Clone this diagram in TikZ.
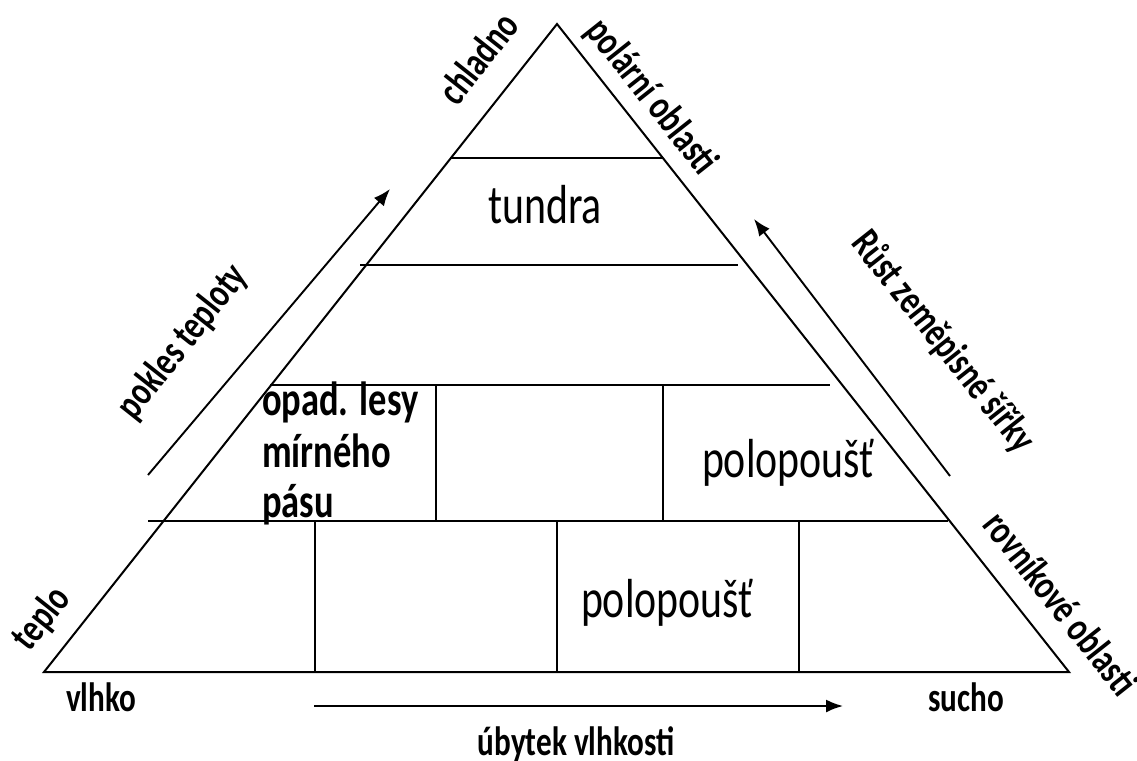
\documentclass[tikz,border=0pt]{standalone}
\usepackage{fontspec}
\setmainfont{Carlito}
\usetikzlibrary{arrows.meta}
\tikzset{
  edge/.style={line width=2pt, line join=miter},
  band/.style={line width=1.7pt},
  dirarrow/.style={line width=1.9pt, -{Latex[length=17pt,width=13pt]}},
  boldlbl/.style={font=\fontsize{41}{48}\selectfont\bfseries, inner sep=0pt, xscale=0.76},
  rotlbl/.style={font=\fontsize{41}{48}\selectfont\bfseries, inner sep=0pt, transform shape},
  biome/.style={font=\fontsize{55}{62}\selectfont, inner sep=0pt, anchor=base, xscale=0.76},
  opadline/.style={font=\fontsize{48}{52}\selectfont\bfseries, inner sep=0pt, anchor=base west, xscale=0.76},
}
\begin{document}
\begin{tikzpicture}[x=1pt,y=-1pt]
\useasboundingbox (0,0) rectangle (1137,760);
% triangle
\coordinate (A) at (557,24);
\coordinate (L) at (44,672);
\coordinate (R) at (1069,672);
\draw[edge] (A) -- (L) -- (R) -- cycle;
% horizontal band lines
\coordinate (h1a) at (451,158); \coordinate (h1b) at (663,158);
\coordinate (h2a) at (360,265); \coordinate (h2b) at (738,265);
\coordinate (h3a) at (270,385); \coordinate (h3b) at (830,385);
\coordinate (h4a) at (148,521); \coordinate (h4b) at (948,521);
\draw[band] (h1a) -- (h1b);
\draw[band] (h2a) -- (h2b);
\draw[band] (h3a) -- (h3b);
\draw[band] (h4a) -- (h4b);
% vertical cell lines
\coordinate (v1a) at (436,385); \coordinate (v1b) at (436,521);
\coordinate (v2a) at (663,385); \coordinate (v2b) at (663,521);
\coordinate (v3a) at (315,521); \coordinate (v3b) at (315,672);
\coordinate (v4a) at (557,521); \coordinate (v4b) at (557,672);
\coordinate (v5a) at (799,521); \coordinate (v5b) at (799,672);
\draw[band] (v1a) -- (v1b);
\draw[band] (v2a) -- (v2b);
\draw[band] (v3a) -- (v3b);
\draw[band] (v4a) -- (v4b);
\draw[band] (v5a) -- (v5b);
% direction arrows
\coordinate (tA) at (148,475); \coordinate (tB) at (390,189);
\coordinate (lA) at (950,476); \coordinate (lB) at (754,219);
\coordinate (mA) at (314,706); \coordinate (mB) at (843,706);
\draw[dirarrow] (tA) -- (tB);
\draw[dirarrow] (lA) -- (lB);
\draw[dirarrow] (mA) -- (mB);
% biome labels
\node[biome] (tundra) at (545,223) {tundra};
\node[biome] (pp1) at (788,477) {polopoušť};
\node[biome] (pp2) at (667,617) {polopoušť};
\node[opadline] (opad1) at (262,415) {opad. lesy};
\node[opadline] (opad2) at (262,467) {mírného};
\node[opadline] (opad3) at (262,517) {pásu};
% rotated axis labels (text narrowed along its baseline)
\begin{scope}[shift={(478,58)}]
  \node[rotlbl, rotate=51.6, xscale=0.76] (chladno) at (0,0) {chladno};
\end{scope}
\begin{scope}[shift={(651,97)}]
  \node[rotlbl, rotate=-51.6, xscale=0.76] (polar) at (0,0) {polární oblasti};
\end{scope}
\begin{scope}[shift={(183,342)}]
  \node[rotlbl, rotate=51.6, xscale=0.76] (pokles) at (0,0) {pokles teploty};
\end{scope}
\begin{scope}[shift={(943,342)}]
  \node[rotlbl, rotate=-51.6, xscale=0.76] (rust) at (0,0) {Růst zeměpisné šířky};
\end{scope}
\begin{scope}[shift={(42,619)}]
  \node[rotlbl, rotate=51.6, xscale=0.76] (teplo) at (0,0) {teplo};
\end{scope}
\begin{scope}[shift={(1061,603)}]
  \node[rotlbl, rotate=-51.6, xscale=0.76] (rovnik) at (0,0) {rovníkové oblasti};
\end{scope}
% horizontal axis labels
\node[boldlbl, anchor=base] (vlhko) at (101,711) {vlhko};
\node[boldlbl, anchor=base] (sucho) at (966,711) {sucho};
\node[boldlbl, anchor=base] (ubytek) at (576,755) {úbytek vlhkosti};
\end{tikzpicture}
\end{document}
